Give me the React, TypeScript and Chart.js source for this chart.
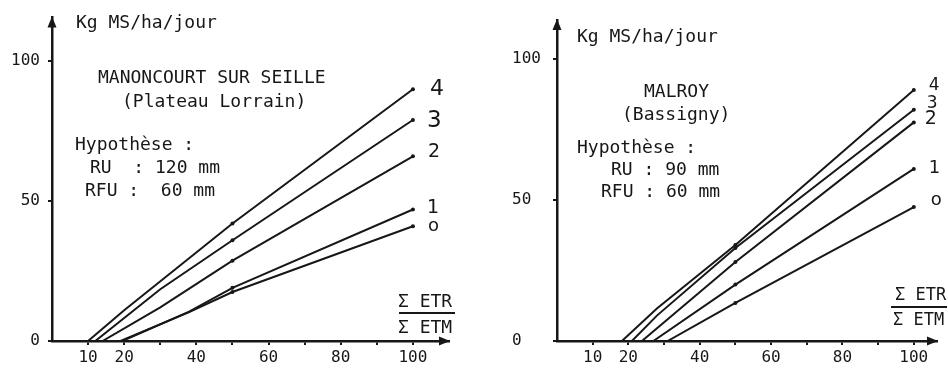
import React, { useEffect, useRef } from 'react';
import { Chart, registerables } from 'chart.js';

Chart.register(...registerables);

const INK = '#171717';
const MONO = '"DejaVu Sans Mono", monospace';
const HAND = '"DejaVu Sans", sans-serif';

// ---- axes ----
const xTickValues = [10, 20, 30, 40, 50, 60, 70, 80, 90, 100];
const xTickLabels = ['10', '20', '', '40', '', '60', '', '80', '', '100'];
const yTickValues = [0, 50, 100];
const yTickLabels = ['0', '50', '100'];
const seriesNames = ['o', '1', '2', '3', '4'];
const yUnit = 'Kg MS/ha/jour';
const ratioTop = 'Σ ETR';
const ratioBottom = 'Σ ETM';

// ---- Manoncourt sur Seille (Plateau Lorrain) ----
const manX0 = [19, 38, 50, 100];
const manY0 = [0, 10.3, 17.5, 41];
const manX1 = [19.5, 38, 50, 100];
const manY1 = [0, 10.5, 19, 47];
const manX2 = [14, 30, 50, 100];
const manY2 = [0, 12, 28.7, 66];
const manX3 = [12, 30, 50, 100];
const manY3 = [0, 18.5, 36, 79];
const manX4 = [10, 20, 50, 100];
const manY4 = [0, 11, 42, 90];

// ---- Malroy (Bassigny) ----
const malX0 = [31, 50, 100];
const malY0 = [0, 13.5, 47.5];
const malX1 = [27, 50, 100];
const malY1 = [0, 20, 61];
const malX2 = [23.8, 50, 100];
const malY2 = [0, 28, 77.5];
const malX3 = [21, 28, 50, 100];
const malY3 = [0, 9, 33, 82];
const malX4 = [18.2, 28, 50, 100];
const malY4 = [0, 11.5, 34, 89];

const markedX = [50, 100];

type TextItem = { text: string; x: number; y: number; size: number };

const panels = [
  {
    xs: [manX0, manX1, manX2, manX3, manX4],
    ys: [manY0, manY1, manY2, manY3, manY4],
    xMax: 110,
    yMax: 115.6,
    padding: { left: 0, top: 15, right: 25, bottom: 0 },
    yAxisWidth: 52,
    yCross: 'near',
    yPad: 8,
    texts: [
      { text: yUnit, x: 76, y: 27.5, size: 18 },
      { text: 'MANONCOURT SUR SEILLE', x: 98, y: 83, size: 18 },
      { text: '(Plateau Lorrain)', x: 122, y: 107, size: 18 },
      { text: 'Hypothèse :', x: 75, y: 150, size: 18 },
      { text: 'RU  : 120 mm', x: 90, y: 173, size: 18 },
      { text: 'RFU :  60 mm', x: 85, y: 196, size: 18 },
      { text: ratioTop, x: 398, y: 307, size: 18 },
      { text: ratioBottom, x: 398, y: 333, size: 18 },
    ] as TextItem[],
    bar: { x1: 399, x2: 455, y: 313 },
    labelDx: [15, 14, 15, 14, 17],
    labelDy: [0, -1, -4, 1, 0],
    labelSize: [18, 19, 19, 23, 22],
  },
  {
    xs: [malX0, malX1, malX2, malX3, malX4],
    ys: [malY0, malY1, malY2, malY3, malY4],
    xMax: 106.5,
    yMax: 113.8,
    padding: { left: 38, top: 20, right: 11, bottom: 0 },
    yAxisWidth: 45,
    yCross: 'far',
    yPad: 8,
    texts: [
      { text: yUnit, x: 103, y: 42, size: 18 },
      { text: 'MALROY', x: 170, y: 97, size: 18 },
      { text: '(Bassigny)', x: 148, y: 120, size: 18 },
      { text: 'Hypothèse :', x: 103, y: 153, size: 18 },
      { text: 'RU : 90 mm', x: 137, y: 175, size: 18 },
      { text: 'RFU : 60 mm', x: 127, y: 197, size: 18 },
      { text: ratioTop, x: 421, y: 300, size: 17 },
      { text: ratioBottom, x: 419, y: 325, size: 17 },
    ] as TextItem[],
    bar: { x1: 417, x2: 473, y: 307 },
    labelDx: [17, 15, 11, 13, 15],
    labelDy: [-7, -1, -3, -6, -4],
    labelSize: [18, 18, 19, 17, 17],
  },
];

const annotate = {
  id: 'annotate',
  afterDraw(chart: any, _args: any, opts: any) {
    const { ctx, chartArea } = chart;
    ctx.save();
    ctx.fillStyle = INK;
    ctx.strokeStyle = INK;
    // axis arrowheads
    const { left, right, top, bottom } = chartArea;
    ctx.beginPath();
    ctx.moveTo(right + 1, bottom);
    ctx.lineTo(right - 10, bottom - 4.5);
    ctx.lineTo(right - 10, bottom + 4.5);
    ctx.closePath();
    ctx.fill();
    ctx.beginPath();
    ctx.moveTo(left, top - 1);
    ctx.lineTo(left - 4.5, top + 10);
    ctx.lineTo(left + 4.5, top + 10);
    ctx.closePath();
    ctx.fill();
    // texts
    ctx.textAlign = 'left';
    ctx.textBaseline = 'alphabetic';
    for (const t of opts.texts as TextItem[]) {
      ctx.font = `${t.size}px ${MONO}`;
      ctx.fillText(t.text, t.x, t.y);
    }
    // fraction bar
    ctx.lineWidth = 2;
    ctx.beginPath();
    ctx.moveTo(opts.bar.x1, opts.bar.y);
    ctx.lineTo(opts.bar.x2, opts.bar.y);
    ctx.stroke();
    // series end labels
    ctx.textBaseline = 'middle';
    chart.data.datasets.forEach((ds: any, i: number) => {
      const meta = chart.getDatasetMeta(i);
      const last = meta.data[meta.data.length - 1];
      ctx.font = `${opts.labelSize[i]}px ${HAND}`;
      ctx.fillText(ds.label, last.x + opts.labelDx[i], last.y + opts.labelDy[i]);
    });
    ctx.restore();
  },
};

function Panel({ p }: { p: (typeof panels)[number] }) {
  const ref = useRef<HTMLCanvasElement>(null);
  useEffect(() => {
    if (!ref.current) return;
    const datasets = p.xs.map((xs, i) => ({
      label: seriesNames[i],
      data: xs.map((x, j) => ({ x, y: p.ys[i][j] })),
      borderColor: INK,
      borderWidth: 2,
      tension: 0,
      pointRadius: (c: any) => (c.raw && markedX.includes(c.raw.x) ? 2 : 0),
      pointBackgroundColor: INK,
      pointBorderWidth: 0,
      fill: false,
    }));
    const chart = new Chart(ref.current, {
      type: 'line',
      data: { datasets },
      plugins: [annotate as any],
      options: {
        animation: false,
        responsive: false,
        layout: { padding: p.padding },
        plugins: {
          legend: { display: false },
          tooltip: { enabled: false },
          annotate: { texts: p.texts, bar: p.bar, labelDx: p.labelDx, labelDy: p.labelDy, labelSize: p.labelSize },
        } as any,
        scales: {
          x: {
            type: 'linear',
            min: 0,
            max: p.xMax,
            afterBuildTicks: (s: any) => {
              s.ticks = xTickValues.map((v) => ({ value: v }));
            },
            afterFit: (s: any) => {
              s.height = 27;
            },
            ticks: {
              autoSkip: false,
              maxRotation: 0,
              padding: 3,
              color: INK,
              font: { family: MONO, size: 16 },
              callback: (v: any) => xTickLabels[xTickValues.indexOf(Number(v))] ?? '',
            },
            grid: { display: true, drawOnChartArea: false, drawTicks: true, tickLength: 4, color: INK, lineWidth: 2 },
            border: { display: true, color: INK, width: 2.5 },
          },
          y: {
            type: 'linear',
            min: 0,
            max: p.yMax,
            afterBuildTicks: (s: any) => {
              s.ticks = yTickValues.map((v) => ({ value: v }));
            },
            afterFit: (s: any) => {
              s.width = p.yAxisWidth;
            },
            ticks: {
              autoSkip: false,
              padding: p.yPad,
              crossAlign: p.yCross as any,
              color: INK,
              font: { family: MONO, size: 16 },
              callback: (v: any) => yTickLabels[yTickValues.indexOf(Number(v))] ?? '',
            },
            grid: { display: true, drawOnChartArea: false, drawTicks: true, tickLength: 4, color: INK, lineWidth: 2 },
            border: { display: true, color: INK, width: 2.5 },
          },
        },
      },
    });
    return () => chart.destroy();
  }, [p]);
  return <canvas ref={ref} width={474} height={368} style={{ display: 'block', width: 474, height: 368 }} />;
}

export default function App() {
  return (
    <div style={{ position: 'fixed', left: 0, top: 0, width: 948, height: 368, display: 'flex', background: '#fff' }}>
      <Panel p={panels[0]} />
      <Panel p={panels[1]} />
    </div>
  );
}
